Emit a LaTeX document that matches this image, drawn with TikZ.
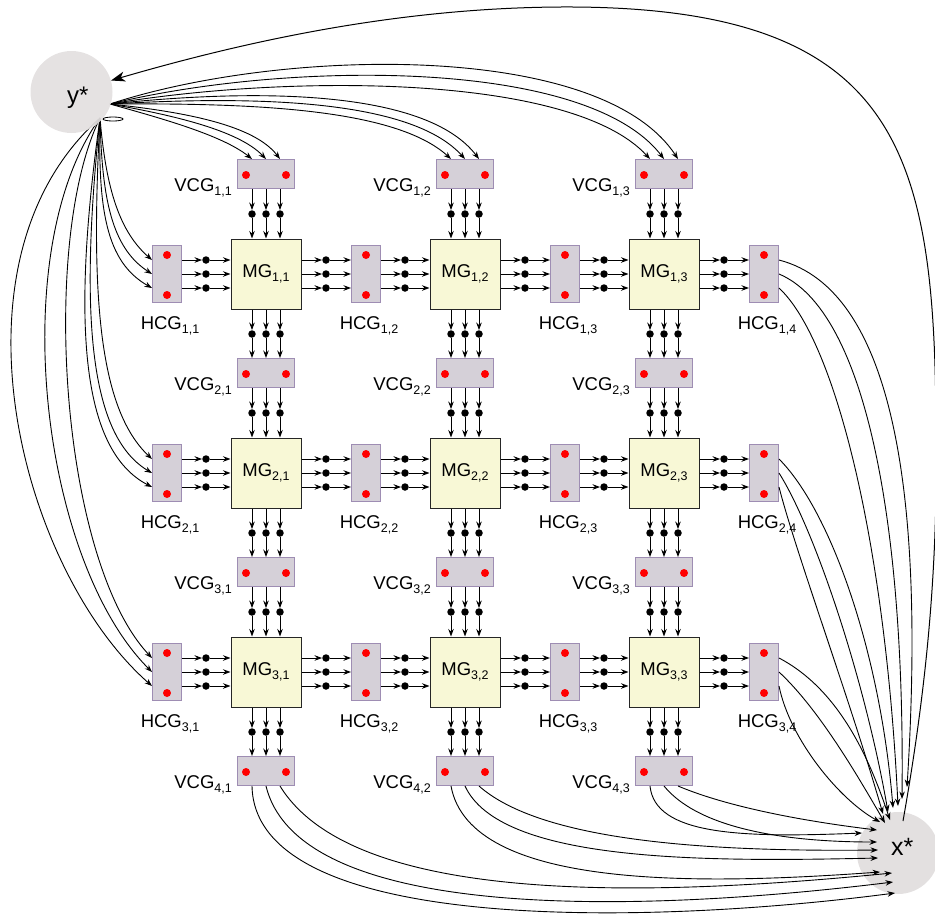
\documentclass[tikz,border=0pt]{standalone}
\usepackage{fontspec}
\setmainfont{Liberation Sans}
\usetikzlibrary{arrows.meta,calc}
\definecolor{cgfill}{HTML}{D5D0D8}
\definecolor{cgdraw}{HTML}{9E8DB3}
\definecolor{mgfill}{HTML}{F8F8D6}
\definecolor{circfill}{HTML}{E3E0E0}
\newcommand\sbx[1]{\raisebox{-4.5pt}{\fontsize{12.5}{12.5}\selectfont #1}}
\begin{document}
\begin{tikzpicture}[x=1pt,y=-1pt,
 mgbox/.style={draw=black!85, line width=1pt, fill=mgfill, minimum width=70pt, minimum height=70pt, inner sep=0pt, font=\fontsize{18.5}{18.5}\selectfont},
 vbox/.style={draw=cgdraw, line width=1pt, fill=cgfill, minimum width=57pt, minimum height=29pt, inner sep=0pt},
 hbox/.style={draw=cgdraw, line width=1pt, fill=cgfill, minimum width=29pt, minimum height=57pt, inner sep=0pt},
 rdot/.style={circle, fill=red, inner sep=0pt, minimum size=8pt},
 bdot/.style={circle, fill=black, inner sep=0pt, minimum size=7.5pt},
 lbl/.style={inner sep=0pt, font=\fontsize{18.5}{18.5}\selectfont},
 arr/.style={line width=0.9pt, -{Stealth[length=7.5pt,width=5.5pt]}},
 bigarr/.style={line width=1pt, -{Stealth[length=14pt,width=10pt,inset=4pt]}},
 circ/.style={circle, fill=circfill, minimum size=82pt, inner sep=0pt}
]
\useasboundingbox (0,0) rectangle (935,922);
% x* circle (under the arrows)
\node[circ] (xs) at (898,853) {};
\node[lbl, font=\fontsize{25}{25}\selectfont, anchor=base west] (xslab) at (891,855) {x*};

% MG blocks
\foreach \i in {1,2,3}{\foreach \j in {1,2,3}{
  \node[mgbox] (m-\i-\j) at ({266+199*(\j-1)},{274+199*(\i-1)}) {MG\sbx{\i,\j}};
}}
% VCG blocks
\foreach \i in {1,...,4}{\foreach \j in {1,2,3}{
  \node[vbox] (v-\i-\j) at ({266+199*(\j-1)},{174+199*(\i-1)}) {};
  \node[rdot] (v-\i-\j-p) at ($(v-\i-\j.center)+(-20,1)$) {};
  \node[rdot] (v-\i-\j-q) at ($(v-\i-\j.center)+(20,1)$) {};
  \node[lbl, anchor=base east] (v-\i-\j-l) at ($(v-\i-\j.west)+(-5,17)$) {VCG\sbx{\i,\j}};
}}
% HCG blocks
\foreach \i in {1,2,3}{\foreach \j in {1,...,4}{
  \node[hbox] (h-\i-\j) at ({167+199*(\j-1)},{274+199*(\i-1)}) {};
  \node[rdot] (h-\i-\j-p) at ($(h-\i-\j.center)+(0,-19)$) {};
  \node[rdot] (h-\i-\j-q) at ($(h-\i-\j.center)+(0,21)$) {};
  \node[lbl, anchor=base] (h-\i-\j-l) at ($(h-\i-\j.south)+(3,26)$) {HCG\sbx{\i,\j}};
}}
% vertical connectors
\foreach \i in {1,...,4}{\foreach \j in {1,2,3}{\foreach \k/\n in {-14/a,0/b,14/c}{
  \ifnum\i<4
    \node[bdot] (dt-\i-\j-\n) at ({266+199*(\j-1)+\k},{214+199*(\i-1)}) {};
    \draw[arr] ([xshift=\k pt]v-\i-\j.south) -- (dt-\i-\j-\n);
    \draw[arr] (dt-\i-\j-\n) -- ([xshift=\k pt]m-\i-\j.north);
  \fi
  \ifnum\i>1
    \pgfmathtruncatemacro\ip{\i-1}
    \node[bdot] (db-\i-\j-\n) at ({266+199*(\j-1)+\k},{334+199*(\i-2)}) {};
    \draw[arr] ([xshift=\k pt]m-\ip-\j.south) -- (db-\i-\j-\n);
    \draw[arr] (db-\i-\j-\n) -- ([xshift=\k pt]v-\i-\j.north);
  \fi
}}}
% horizontal connectors
\foreach \i in {1,2,3}{\foreach \j in {1,...,4}{\foreach \k/\n/\m in {-14/a/14,0/b/0,14/c/-14}{
  \ifnum\j<4
    \node[bdot] (dr-\i-\j-\n) at ({206+199*(\j-1)},{274+199*(\i-1)+\k}) {};
    \draw[arr] ([yshift=\m pt]h-\i-\j.east) -- (dr-\i-\j-\n);
    \draw[arr] (dr-\i-\j-\n) -- ([yshift=\m pt]m-\i-\j.west);
  \fi
  \ifnum\j>1
    \pgfmathtruncatemacro\jp{\j-1}
    \node[bdot] (dl-\i-\j-\n) at ({326+199*(\j-2)},{274+199*(\i-1)+\k}) {};
    \draw[arr] ([yshift=\m pt]m-\i-\jp.east) -- (dl-\i-\j-\n);
    \draw[arr] (dl-\i-\j-\n) -- ([yshift=\m pt]h-\i-\j.west);
  \fi
}}}

% curves from y*
\coordinate (ya) at (110,104);
\coordinate (yb) at (100,118);
\draw[arr] (ya) .. controls (160,118) and (222,135) .. ([xshift=-14pt]v-1-1.north);
\draw[arr] (ya) .. controls (172,115) and (238,130) .. (v-1-1.north);
\draw[arr] (ya) .. controls (185,112) and (254,125) .. ([xshift=14pt]v-1-1.north);
\draw[arr] (ya) .. controls (250,103) and (395,108) .. ([xshift=-14pt]v-1-2.north);
\draw[arr] (ya) .. controls (250,96) and (410,98) .. (v-1-2.north);
\draw[arr] (ya) .. controls (250,89) and (425,88) .. ([xshift=14pt]v-1-2.north);
\draw[arr] (ya) .. controls (280,75) and (570,72) .. ([xshift=-14pt]v-1-3.north);
\draw[arr] (ya) .. controls (280,62) and (585,56) .. (v-1-3.north);
\draw[arr] (ya) .. controls (280,48) and (600,40) .. ([xshift=14pt]v-1-3.north);
\draw[arr] (yb) .. controls (106,190) and (120,232) .. ([yshift=14pt]h-1-1.west);
\draw[arr] (yb) .. controls (102,200) and (112,248) .. (h-1-1.west);
\draw[arr] (yb) .. controls (98,210) and (106,262) .. ([yshift=-14pt]h-1-1.west);
\draw[arr] (yb) .. controls (90,300) and (100,410) .. ([yshift=14pt]h-2-1.west);
\draw[arr] (yb) .. controls (80,310) and (88,435) .. (h-2-1.west);
\draw[arr] (yb) .. controls (72,320) and (80,450) .. ([yshift=-14pt]h-2-1.west);
\draw[arr] (yb) .. controls (40,240) and (60,560) .. ([yshift=14pt]h-3-1.west);
\draw[arr] (yb) .. controls (5,250) and (40,560) .. (h-3-1.west);
\draw[arr] (yb) .. controls (-60,260) and (20,570) .. ([yshift=-14pt]h-3-1.west);
\draw[line width=0.8pt] (113,119) ellipse [x radius=10pt, y radius=2pt];

% curves to x*
\draw[arr] ([yshift=14pt]h-1-4.east) .. controls (895,290) and (925,500) .. ($(xs.center)+(9,-66)$);
\draw[arr] (h-1-4.east) .. controls (865,310) and (905,520) .. ($(xs.center)+(4,-54)$);
\draw[arr] ([yshift=-14pt]h-1-4.east) .. controls (835,340) and (885,540) .. ($(xs.center)+(0,-47)$);
\draw[arr] ([yshift=14pt]h-2-4.east) .. controls (830,510) and (880,650) .. ($(xs.center)+(-5,-45)$);
\draw[arr] (h-2-4.east) .. controls (815,530) and (865,680) .. ($(xs.center)+(-10,-41)$);
\draw[arr] ([yshift=-14pt]h-2-4.east) .. controls (795,550) and (850,700) .. ($(xs.center)+(-15,-39)$);
\draw[arr] ([yshift=14pt]h-3-4.east) .. controls (840,690) and (870,760) .. ($(xs.center)+(-8,-33)$);
\draw[arr] (h-3-4.east) .. controls (820,710) and (860,780) .. ($(xs.center)+(-13,-30)$);
\draw[arr] ([yshift=-14pt]h-3-4.east) .. controls (790,740) and (840,800) .. ($(xs.center)+(-18,-31)$);
\draw[arr] ([xshift=-14pt]v-4-3.south) .. controls (655,835) and (740,838) .. ($(xs.center)+(-36,-20)$);
\draw[arr] (v-4-3.south) .. controls (700,830) and (790,842) .. ($(xs.center)+(-21,-11)$);
\draw[arr] ([xshift=14pt]v-4-3.south) .. controls (730,808) and (810,822) .. ($(xs.center)+(-21,-23)$);
\draw[arr] ([xshift=14pt]v-4-2.south) .. controls (540,840) and (700,852) .. ($(xs.center)+(-20,-3)$);
\draw[arr] (v-4-2.south) .. controls (500,862) and (700,862) .. ($(xs.center)+(-20,5)$);
\draw[arr] ([xshift=-14pt]v-4-2.south) .. controls (470,890) and (700,885) .. ($(xs.center)+(-18,19)$);
\draw[arr] ([xshift=14pt]v-4-1.south) .. controls (350,900) and (620,900) .. ($(xs.center)+(-6,20)$);
\draw[arr] (v-4-1.south) .. controls (300,925) and (650,912) .. ($(xs.center)+(-5,29)$);
\draw[arr] ([xshift=-14pt]v-4-1.south) .. controls (255,935) and (650,925) .. ($(xs.center)+(-3,40)$);

% y* circle
\node[circ, fill opacity=0.92] (ys) at (71.5,92) {};
\node[lbl, font=\fontsize{24}{24}\selectfont, anchor=base west] (yslab) at (67,103) {y*};

% return arc from x* to y*
\draw[bigarr] ($(xs.center)+(5,-32)$) .. controls (928,680) and (938,560) .. (936,430)
  .. controls (935,150) and (900,5) .. (560,7) .. controls (400,8) and (250,40) .. (ys);
\end{tikzpicture}
\end{document}
